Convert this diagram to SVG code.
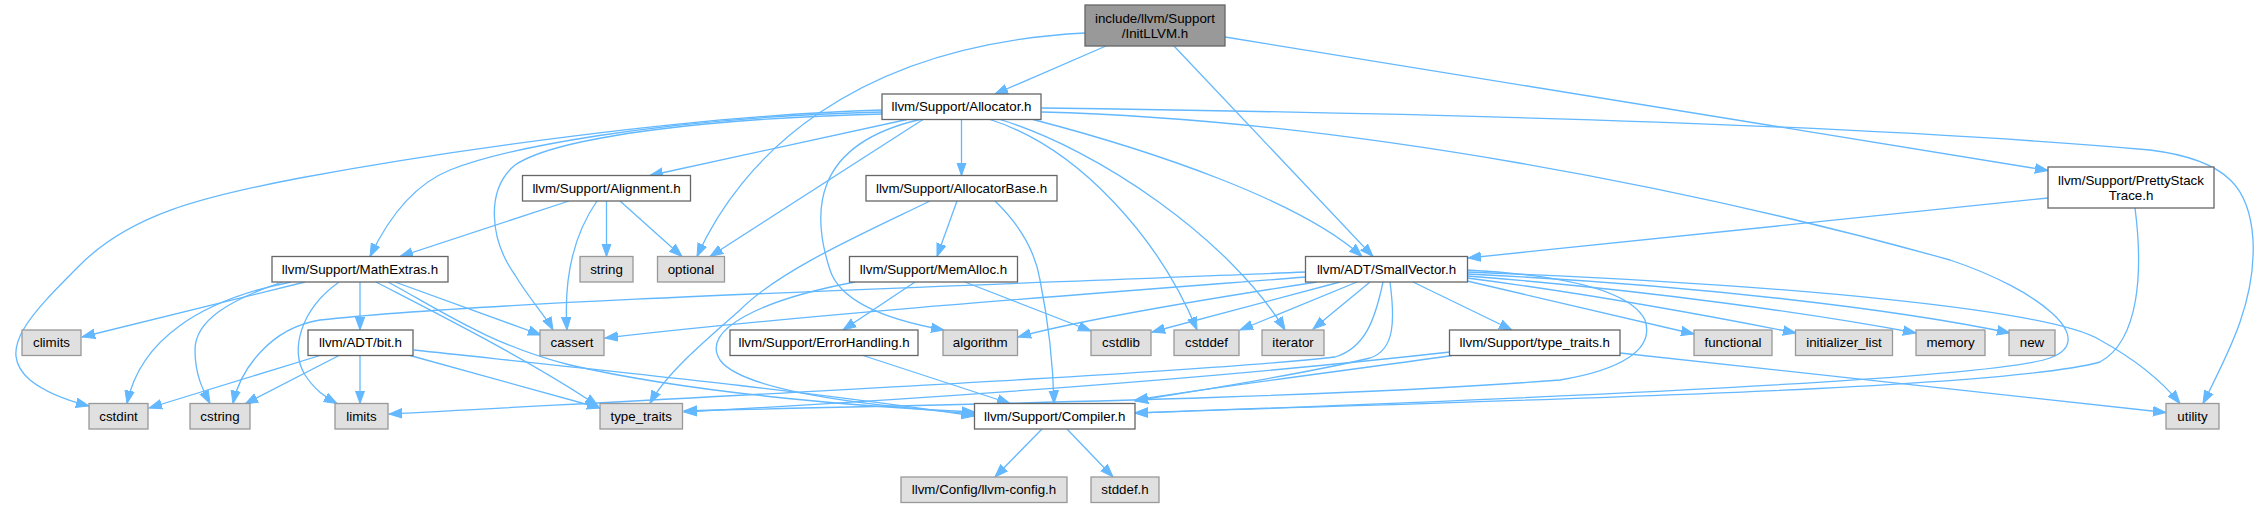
<svg xmlns="http://www.w3.org/2000/svg" width="2261" height="508" viewBox="0 0 2261 508">
<style>
.e{fill:none;stroke:#63b8ff;stroke-width:1.3;marker-end:url(#arr)}
.n rect{fill:#ffffff;stroke:#666666;stroke-width:1.3}
.x rect{fill:#e0e0e0;stroke:#999999;stroke-width:1.3}
.r rect{fill:#999999;stroke:#666666;stroke-width:1.3}
text{font-family:"Liberation Sans",Arial,Helvetica,sans-serif;font-size:13.33px;fill:#000000;text-anchor:middle}
</style>
<defs>
<marker id="arr" markerUnits="userSpaceOnUse" markerWidth="14" markerHeight="11" viewBox="0 0 14 11" refX="13" refY="5.5" orient="auto">
<path d="M0,0.8 L13,5.5 L0,10.2 z" fill="#63b8ff" stroke="#63b8ff" stroke-width="1"/>
</marker>
</defs>
<rect width="2261" height="508" fill="#ffffff"/>
<g id="edges">
<path class="e" d="M1106,46 L995,94"/>
<path class="e" d="M1085,33 C850,45 740,160 697,256.5"/>
<path class="e" d="M1174,46 L1373,256.5"/>
<path class="e" d="M1225,37 L2048,170.5"/>
<path class="e" d="M907,119.5 L650,175.5"/>
<path class="e" d="M961.5,119.5 L961.5,175.5"/>
<path class="e" d="M923,119.5 L710,256.5"/>
<path class="e" d="M920,119.5 C810,145 812,215 830,270 C842,307 905,323 944,330"/>
<path class="e" d="M990,119.5 C1080,148 1160,240 1197,330"/>
<path class="e" d="M1000,119.5 C1100,150 1230,240 1285,330"/>
<path class="e" d="M1033,119.5 C1150,150 1300,200 1362,256.5"/>
<path class="e" d="M1041.5,108 C1500,114 1900,128 2150,150 C2230,160 2250,190 2253,240 C2256,300 2230,350 2203,403.5"/>
<path class="e" d="M1041.5,112 C1350,120 1700,190 1950,260 C2040,290 2100,340 2050,358 C1990,380 1500,400 1135,413"/>
<path class="e" d="M882,110 C700,115 450,150 300,178 C200,197 130,215 80,265 C30,315 -5,350 30,380 C45,392 65,400 89,406"/>
<path class="e" d="M882,112 C650,118 500,150 450,170 C410,186 385,225 370,256.5"/>
<path class="e" d="M882,114 C720,118 560,135 515,165 C485,190 490,240 515,275 C530,300 545,315 553,330"/>
<path class="e" d="M569,201 L400,256.5"/>
<path class="e" d="M597,201 C570,240 564,285 567,330"/>
<path class="e" d="M606.5,201 L606.5,256.5"/>
<path class="e" d="M620,201 L682,256.5"/>
<path class="e" d="M957,201 L937,256.5"/>
<path class="e" d="M930,201 C860,235 780,270 740,310 C700,345 665,375 650,403.5"/>
<path class="e" d="M995,201 C1020,225 1035,250 1040,280 C1048,320 1053,360 1054,403.5"/>
<path class="e" d="M915,282 L843,330"/>
<path class="e" d="M965,282 L1091,331"/>
<path class="e" d="M855,282 C760,300 700,330 720,360 C745,395 900,408 974.5,414"/>
<path class="e" d="M863,355.5 L1010,403.5"/>
<path class="e" d="M305,282 L82,337"/>
<path class="e" d="M291,282 C200,300 140,340 127,403.5"/>
<path class="e" d="M282,282 C230,300 195,320 195,350 C195,375 203,390 210,403.5"/>
<path class="e" d="M339,282 C300,310 290,350 305,375 C315,390 325,397 337,403.5"/>
<path class="e" d="M360,282 L360,330"/>
<path class="e" d="M376,282 C430,310 530,360 598,406"/>
<path class="e" d="M388,282 C440,310 490,345 570,365 C700,395 880,408 974.5,412"/>
<path class="e" d="M395,282 L541,335"/>
<path class="e" d="M320,355.5 L149,408"/>
<path class="e" d="M339,355.5 L245,404"/>
<path class="e" d="M360,355.5 L360,403.5"/>
<path class="e" d="M410,355.5 L600,408"/>
<path class="e" d="M414,350 C600,370 800,390 974.5,416"/>
<path class="e" d="M1306,272 C1000,285 500,300 320,320 C270,328 240,370 233,403.5"/>
<path class="e" d="M1306,277 C1100,293 800,315 605,338"/>
<path class="e" d="M1383,282 C1375,320 1365,348 1335,357 C1200,372 800,392 389,414"/>
<path class="e" d="M1467,270 C1560,275 1630,290 1645,320 C1655,350 1620,370 1560,380 C1300,400 900,405 684,411"/>
<path class="e" d="M1390,282 C1395,320 1395,350 1370,358 C1300,375 1200,390 1135,401"/>
<path class="e" d="M1317,282 C1200,300 1080,320 1018,337"/>
<path class="e" d="M1340,282 L1152,332"/>
<path class="e" d="M1357,282 L1240,330"/>
<path class="e" d="M1370,282 L1313,329"/>
<path class="e" d="M1413,282 L1512,330"/>
<path class="e" d="M1467,281 L1694,334"/>
<path class="e" d="M1467,278 C1600,295 1720,318 1796,333"/>
<path class="e" d="M1467,276 C1650,290 1820,315 1916,333"/>
<path class="e" d="M1467,274 C1700,285 1900,310 2010,333"/>
<path class="e" d="M1467,272 C1800,285 2050,310 2100,340 C2140,362 2165,385 2180,403.5"/>
<path class="e" d="M1452,355.5 C1350,370 1230,385 1135,400"/>
<path class="e" d="M1450,352 C1200,380 900,400 684,412"/>
<path class="e" d="M1620,353 L2166,412.5"/>
<path class="e" d="M2048,198 L1468,258"/>
<path class="e" d="M2135,208 C2143,270 2140,340 2100,362 C2000,390 1500,400 1135,413"/>
<path class="e" d="M1042,429 L995,477"/>
<path class="e" d="M1067,429 L1113,477"/>
</g>
<g id="n-initllvm" class="r"><rect x="1085" y="5" width="140" height="41"/><text x="1155" y="22.5">include/llvm/Support</text><text x="1155" y="37.5">/InitLLVM.h</text></g>
<g id="n-allocator" class="n"><rect x="882" y="94" width="159" height="25.5"/><text x="961.5" y="111.3">llvm/Support/Allocator.h</text></g>
<g id="n-prettystacktrace" class="n"><rect x="2048" y="167" width="166" height="41"/><text x="2131" y="184.5">llvm/Support/PrettyStack</text><text x="2131" y="199.5">Trace.h</text></g>
<g id="n-alignment" class="n"><rect x="522.5" y="175.5" width="168" height="25.5"/><text x="606.5" y="192.8">llvm/Support/Alignment.h</text></g>
<g id="n-allocatorbase" class="n"><rect x="866" y="175.5" width="191" height="25.5"/><text x="961.5" y="192.8">llvm/Support/AllocatorBase.h</text></g>
<g id="n-mathextras" class="n"><rect x="272" y="256.5" width="176" height="25.5"/><text x="360" y="273.8">llvm/Support/MathExtras.h</text></g>
<g id="n-string" class="x"><rect x="580" y="256.5" width="53" height="25.5"/><text x="606.5" y="273.8">string</text></g>
<g id="n-optional" class="x"><rect x="657.5" y="256.5" width="67" height="25.5"/><text x="691" y="273.8">optional</text></g>
<g id="n-memalloc" class="n"><rect x="849.5" y="256.5" width="168" height="25.5"/><text x="933.5" y="273.8">llvm/Support/MemAlloc.h</text></g>
<g id="n-smallvector" class="n"><rect x="1305.5" y="256.5" width="162" height="25.5"/><text x="1386.5" y="273.8">llvm/ADT/SmallVector.h</text></g>
<g id="n-climits" class="x"><rect x="22" y="330" width="59" height="25.5"/><text x="51.5" y="347.3">climits</text></g>
<g id="n-bit" class="n"><rect x="308" y="330" width="105" height="25.5"/><text x="360.5" y="347.3">llvm/ADT/bit.h</text></g>
<g id="n-cassert" class="x"><rect x="540" y="330" width="64" height="25.5"/><text x="572" y="347.3">cassert</text></g>
<g id="n-errorhandling" class="n"><rect x="730" y="330" width="188" height="25.5"/><text x="824" y="347.3">llvm/Support/ErrorHandling.h</text></g>
<g id="n-algorithm" class="x"><rect x="943" y="330" width="74.5" height="25.5"/><text x="980.25" y="347.3">algorithm</text></g>
<g id="n-cstdlib" class="x"><rect x="1091" y="330" width="60" height="25.5"/><text x="1121" y="347.3">cstdlib</text></g>
<g id="n-cstddef" class="x"><rect x="1174" y="330" width="65" height="25.5"/><text x="1206.5" y="347.3">cstddef</text></g>
<g id="n-iterator" class="x"><rect x="1262" y="330" width="62" height="25.5"/><text x="1293" y="347.3">iterator</text></g>
<g id="n-typetraitsh" class="n"><rect x="1449.5" y="330" width="170.5" height="25.5"/><text x="1534.75" y="347.3">llvm/Support/type_traits.h</text></g>
<g id="n-functional" class="x"><rect x="1694" y="330" width="78" height="25.5"/><text x="1733" y="347.3">functional</text></g>
<g id="n-initializer_list" class="x"><rect x="1795.5" y="330" width="97" height="25.5"/><text x="1844" y="347.3">initializer_list</text></g>
<g id="n-memory" class="x"><rect x="1916" y="330" width="69" height="25.5"/><text x="1950.5" y="347.3">memory</text></g>
<g id="n-new" class="x"><rect x="2009" y="330" width="46" height="25.5"/><text x="2032" y="347.3">new</text></g>
<g id="n-cstdint" class="x"><rect x="89" y="403.5" width="59" height="25.5"/><text x="118.5" y="420.8">cstdint</text></g>
<g id="n-cstring" class="x"><rect x="190" y="403.5" width="60" height="25.5"/><text x="220" y="420.8">cstring</text></g>
<g id="n-limits" class="x"><rect x="335" y="403.5" width="53" height="25.5"/><text x="361.5" y="420.8">limits</text></g>
<g id="n-type_traits" class="x"><rect x="600" y="403.5" width="82.5" height="25.5"/><text x="641.25" y="420.8">type_traits</text></g>
<g id="n-compiler" class="n"><rect x="974.5" y="403.5" width="160.5" height="25.5"/><text x="1054.75" y="420.8">llvm/Support/Compiler.h</text></g>
<g id="n-utility" class="x"><rect x="2166" y="403.5" width="53" height="25.5"/><text x="2192.5" y="420.8">utility</text></g>
<g id="n-llvmconfig" class="x"><rect x="901" y="477" width="166" height="25.5"/><text x="984" y="494.3">llvm/Config/llvm-config.h</text></g>
<g id="n-stddef" class="x"><rect x="1091" y="477" width="68" height="25.5"/><text x="1125" y="494.3">stddef.h</text></g>
</svg>
